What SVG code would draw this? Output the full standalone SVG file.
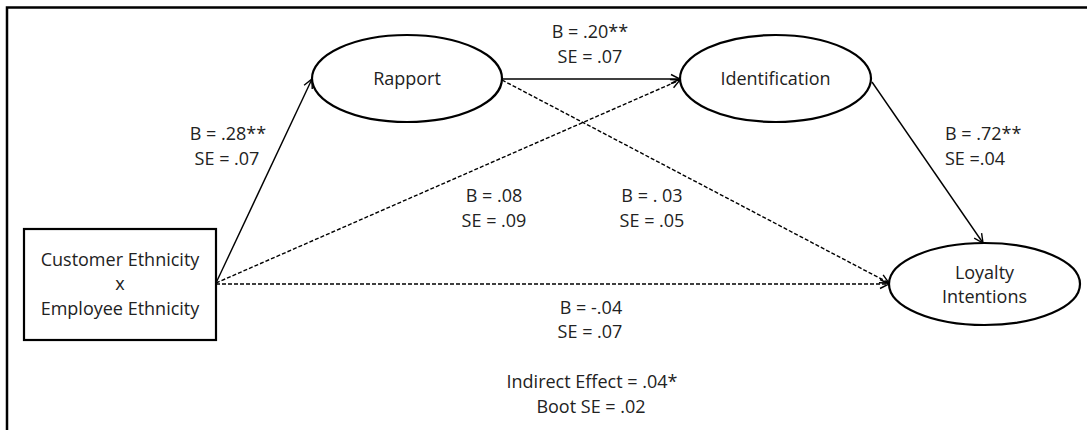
<svg xmlns="http://www.w3.org/2000/svg" width="1087" height="430" viewBox="0 0 1087 430">
<defs>
<marker id="arr" markerWidth="12" markerHeight="12" viewBox="0 0 12 12" refX="11" refY="6" orient="auto" markerUnits="userSpaceOnUse">
<path d="M2,1.5 L11,6 L2,10.5" fill="none" stroke="#000" stroke-width="1.4"/>
</marker>
<style>
text{font-family:"Open Sans","Liberation Sans",sans-serif;font-size:18px;fill:#222;text-anchor:middle}
.node{fill:#fff;stroke:#000;stroke-width:2.2}
.solid{stroke:#000;stroke-width:1.4;fill:none}
.dash{stroke:#000;stroke-width:1.4;fill:none;stroke-dasharray:4,2}
.left{text-anchor:start}
</style>
</defs>
<rect width="1087" height="430" fill="#fff"/>
<path d="M7,430 V7.5 H1087" fill="none" stroke="#000" stroke-width="2.5"/>
<g id="connectors">
<line class="solid" x1="216" y1="283" x2="312" y2="79" marker-end="url(#arr)"/>
<line class="solid" x1="502" y1="79" x2="680" y2="79" marker-end="url(#arr)"/>
<line class="solid" x1="872" y1="82" x2="983" y2="243" marker-end="url(#arr)"/>
<line class="dash" x1="216" y1="283" x2="680" y2="80" marker-end="url(#arr)"/>
<line class="dash" x1="502" y1="80" x2="889" y2="283" marker-end="url(#arr)"/>
<line class="dash" x1="216" y1="284" x2="889" y2="284" marker-end="url(#arr)"/>
</g>
<g id="labels">
<text x="228" y="140">B = .28**</text>
<text x="227" y="165">SE = .07</text>
<text x="590" y="38">B = .20**</text>
<text x="590" y="63">SE = .07</text>
<text class="left" x="945" y="140">B = .72**</text>
<text class="left" x="945" y="165">SE =.04</text>
<text x="494" y="202">B = .08</text>
<text x="494" y="227">SE = .09</text>
<text x="652" y="202">B = . 03</text>
<text x="652" y="227">SE = .05</text>
<text x="591" y="314">B = -.04</text>
<text x="590" y="338">SE = .07</text>
<text x="592" y="388">Indirect Effect = .04*</text>
<text x="591" y="413">Boot SE = .02</text>
</g>
<g id="node-ethnicity">
<rect class="node" x="24" y="229" width="192" height="111"/>
<text x="120" y="266">Customer Ethnicity</text>
<text x="120" y="290">x</text>
<text x="120" y="315">Employee Ethnicity</text>
</g>
<g id="node-rapport">
<ellipse class="node" cx="407" cy="78.5" rx="95" ry="43.5"/>
<text x="407" y="85">Rapport</text>
</g>
<g id="node-identification">
<ellipse class="node" cx="775.5" cy="78.5" rx="95.5" ry="43.5"/>
<text x="775.5" y="85">Identification</text>
</g>
<g id="node-loyalty">
<ellipse class="node" cx="984.5" cy="284" rx="95.5" ry="41"/>
<text x="984.5" y="279">Loyalty</text>
<text x="984.5" y="303">Intentions</text>
</g>
</svg>
